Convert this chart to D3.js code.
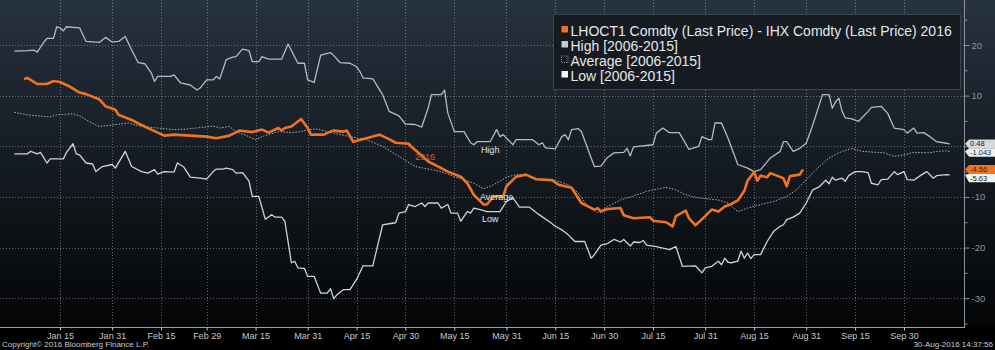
<!DOCTYPE html>
<html><head><meta charset="utf-8">
<script src="https://cdn.jsdelivr.net/npm/d3@7"></script>
<style>html,body{margin:0;padding:0;background:#000;overflow:hidden}svg{display:block}</style>
</head><body><svg id="c" width="995" height="350"></svg>
<script>
// ---------- DATA ----------
const tickDates = ["2016-01-15","2016-01-31","2016-02-15","2016-02-29","2016-03-15","2016-03-31","2016-04-15","2016-04-30","2016-05-15","2016-05-31","2016-06-15","2016-06-30","2016-07-15","2016-07-31","2016-08-15","2016-08-31","2016-09-15","2016-09-30"];
const tickLabels = ["Jan 15","Jan 31","Feb 15","Feb 29","Mar 15","Mar 31","Apr 15","Apr 30","May 15","May 31","Jun 15","Jun 30","Jul 15","Jul 31","Aug 15","Aug 31","Sep 15","Sep 30"];
const yMajor = [20,10,0,-10,-20,-30];
const yMinor = [25,15,5,-5,-15,-25,-35];

// [day of year 2016, value]
const high = [[1,18.8],[5,18.9],[7,19.0],[8,18.6],[10,20.5],[11,21.3],[13,21.3],[14,23.6],[15,23.4],[16,22.8],[17,23.6],[21,23.4],[23,20.7],[27,20.5],[29,21.5],[31,20.6],[33,20.7],[35,21.7],[37,19.0],[39,16.5],[41,16.3],[43,14.5],[44,12.8],[45,13.8],[49,13.8],[50,14.1],[52,12.5],[55,12.1],[57,11.1],[58,11.5],[60,13.1],[62,13.1],[63,13.8],[64,13.3],[66,17.1],[68,17.6],[69,17.7],[71,19.2],[73,18.9],[74,16.7],[76,16.7],[77,17.7],[79,17.2],[83,17.2],[85,20.2],[88,16.4],[90,16.4],[91,13.1],[93,12.6],[95,18.0],[98,18.5],[99,17.9],[101,16.5],[104,16.4],[106,15.7],[107,14.8],[108,13.5],[111,13.3],[114,10.2],[116,6.9],[119,6.0],[121,4.4],[124,4.3],[126,3.8],[128,7.6],[129,10.2],[132,10.2],[133,11.1],[134,6.6],[136,2.9],[139,2.9],[141,0.7],[142,0.3],[143,0.9],[147,0.9],[149,3.3],[150,1.9],[151,2.3],[154,0.3],[155,1.3],[160,1.3],[162,0.3],[163,0.7],[164,-0.3],[167,-0.5],[169,1.9],[170,2.3],[171,1.3],[172,3.3],[174,3.5],[175,2.9],[178,-2.3],[179,-4.0],[181,-3.9],[183,-2.2],[185,-1.3],[188,-1.2],[189,-0.4],[190,-1.9],[191,-0.1],[197,0.3],[198,2.6],[200,3.6],[202,2.7],[205,2.7],[206,1.6],[208,-0.6],[211,0.0],[212,1.9],[214,1.3],[215,1.3],[216,4.6],[218,4.6],[220,1.6],[223,-3.6],[226,-4.3],[228,-5.0],[230,-4.6],[233,-2.3],[236,-1.0],[237,0.9],[238,0.9],[240,-1.0],[242,-0.4],[244,0.6],[246,4.2],[249,10.2],[251,10.2],[252,7.5],[253,8.8],[254,9.5],[255,6.9],[256,5.6],[258,5.4],[260,4.9],[263,6.9],[264,7.7],[267,7.9],[269,6.5],[271,3.6],[274,3.3],[275,2.6],[277,3.6],[278,2.6],[280,2.7],[282,1.9],[284,0.9],[287,0.6],[288,0.48]];

const average = [[1,6.7],[5,6.2],[8,6.0],[12,5.8],[14,6.2],[19,6.4],[21,6.0],[23,5.2],[27,3.9],[31,4.2],[36,4.6],[40,3.9],[45,3.6],[50,3.3],[54,3.4],[58,3.7],[62,4.0],[64,3.6],[67,3.9],[69,2.9],[73,1.9],[75,1.3],[77,1.9],[82,2.9],[86,2.7],[89,2.9],[91,3.3],[94,3.4],[99,2.6],[104,1.9],[109,1.3],[114,0.0],[119,-2.0],[124,-4.0],[129,-4.6],[132,-5.0],[136,-6.0],[139,-6.6],[142,-7.3],[145,-8.4],[148,-7.6],[150,-6.9],[152,-6.1],[155,-5.6],[158,-5.6],[162,-6.5],[166,-6.5],[171,-7.6],[174,-9.2],[177,-11.9],[180,-13.1],[183,-11.9],[187,-10.6],[191,-9.8],[195,-8.9],[201,-8.1],[204,-8.6],[207,-9.6],[211,-10.2],[217,-10.6],[220,-11.2],[223,-12.9],[226,-12.2],[230,-11.5],[234,-10.9],[238,-9.9],[241,-8.6],[244,-6.6],[247,-4.6],[251,-2.3],[255,-1.0],[258,-0.4],[261,-1.0],[268,-1.3],[271,-2.0],[274,-1.7],[277,-1.2],[282,-1.3],[284,-1.0],[287,-0.9],[288,-1.043]];

const low = [[1,-1.5],[5,-1.5],[6,-1.0],[8,-1.5],[9,-1.2],[11,-3.3],[12,-2.5],[16,-2.5],[17,-1.2],[19,0.5],[20,-1.5],[21,-1.7],[23,-3.3],[25,-3.5],[26,-5.0],[28,-4.0],[31,-3.6],[32,-4.3],[35,-1.0],[37,-4.0],[40,-5.0],[42,-5.3],[44,-4.6],[45,-5.5],[47,-5.0],[50,-5.1],[51,-3.3],[53,-4.1],[55,-6.1],[58,-6.3],[60,-6.5],[62,-5.0],[63,-4.5],[65,-4.5],[66,-4.3],[68,-4.6],[69,-5.3],[71,-5.2],[73,-6.9],[74,-9.9],[76,-9.9],[78,-14.4],[80,-13.5],[81,-14.0],[83,-14.0],[84,-14.8],[86,-23.0],[87,-22.7],[88,-24.0],[90,-24.1],[91,-25.7],[93,-25.7],[95,-29.0],[97,-29.0],[98,-28.1],[99,-30.1],[100,-29.3],[102,-28.3],[104,-28.3],[106,-26.3],[108,-23.6],[111,-23.6],[114,-15.5],[116,-15.3],[118,-15.1],[119,-13.2],[121,-12.9],[122,-11.5],[124,-11.9],[126,-11.2],[127,-11.9],[128,-11.2],[131,-11.2],[132,-12.2],[134,-11.5],[135,-13.2],[137,-13.2],[138,-14.8],[140,-12.9],[141,-13.2],[142,-12.2],[144,-12.5],[146,-12.9],[150,-12.9],[152,-10.9],[154,-10.2],[156,-12.0],[159,-12.0],[162,-13.5],[165,-14.8],[167,-15.8],[169,-16.5],[171,-17.5],[173,-18.8],[176,-18.8],[178,-22.1],[179,-21.4],[181,-19.5],[183,-19.2],[185,-18.4],[187,-18.9],[188,-18.4],[190,-19.7],[191,-18.9],[193,-19.0],[194,-18.6],[195,-19.5],[198,-19.8],[202,-20.4],[204,-19.8],[206,-23.7],[210,-23.6],[212,-25.0],[213,-24.0],[215,-23.7],[217,-22.7],[218,-23.4],[219,-22.1],[220,-22.9],[221,-23.0],[223,-22.7],[224,-20.7],[225,-22.1],[226,-21.1],[227,-22.2],[228,-21.4],[230,-21.4],[232,-18.8],[234,-16.8],[236,-15.8],[237,-15.5],[238,-14.5],[240,-14.0],[242,-13.2],[244,-11.2],[246,-8.6],[248,-8.0],[250,-6.7],[251,-7.4],[252,-6.1],[253,-6.7],[255,-6.3],[256,-6.9],[257,-5.8],[259,-5.0],[261,-5.0],[263,-5.2],[264,-7.3],[266,-7.6],[267,-6.6],[269,-6.5],[271,-5.0],[272,-5.6],[274,-5.0],[275,-6.6],[277,-6.7],[279,-5.8],[281,-5.0],[283,-6.3],[284,-5.8],[287,-5.6],[288,-5.63]];

const y2016 = [[4,13.3],[5,13.5],[6,13.1],[8,12.3],[11,12.3],[13,12.9],[15,12.7],[18,11.8],[21,10.6],[23,10.3],[27,9.3],[29,7.9],[32,7.2],[33,6.2],[37,5.2],[40,4.2],[43,3.3],[47,2.1],[50,2.3],[55,2.1],[60,1.9],[63,1.6],[67,2.1],[70,3.1],[74,2.8],[77,3.3],[79,2.7],[82,3.6],[83,3.1],[84,3.6],[86,3.9],[89,5.4],[91,3.6],[92,2.3],[96,2.3],[98,2.9],[99,3.1],[102,2.9],[103,3.1],[105,0.9],[109,1.6],[113,2.3],[116,1.4],[118,0.7],[122,0.5],[123,-0.2],[125,-1.3],[128,-3.0],[132,-4.3],[134,-5.0],[138,-6.0],[140,-7.3],[142,-9.6],[145,-11.5],[146,-11.5],[148,-9.9],[151,-9.9],[152,-7.9],[155,-6.0],[158,-5.6],[161,-6.5],[166,-6.7],[168,-7.6],[172,-8.2],[175,-11.2],[179,-12.5],[180,-12.2],[181,-12.9],[183,-12.4],[187,-12.2],[188,-13.6],[191,-14.2],[196,-14.0],[197,-14.7],[201,-15.0],[203,-15.8],[204,-13.8],[207,-12.7],[208,-14.2],[210,-15.6],[213,-13.8],[215,-12.5],[217,-12.9],[219,-11.9],[221,-11.4],[223,-10.7],[225,-8.8],[226,-6.8],[228,-5.1],[229,-6.8],[230,-5.8],[232,-6.1],[233,-5.3],[237,-6.3],[238,-7.9],[239,-5.9],[242,-5.6],[243,-4.56]];

const legendLabels = ["LHOCT1 Comdty (Last Price) - IHX Comdty (Last Price) 2016","High [2006-2015]","Average [2006-2015]","Low [2006-2015]"];
// in-chart labels: [text, day of year, value]
const annotations = [["High",147.5,-1.3],["2016",127,-2.7],["Average",149.7,-10.6],["Low",147.2,-15.0]];
// last-value tags: [value, label, fill, text colour], top to bottom
const lastTags = [[0.48,"0.48","#d6d8da","#1a1a1a"],[-1.043,"-1.043","#f2f2f2","#1a1a1a"],[-4.56,"-4.56","#f07323","#4a1800"],[-5.63,"-5.63","#f2f2f2","#1a1a1a"]];

// ---------- LAYOUT ----------
const W = 995, H = 350, plotR = 964, plotB = 327;
const parseD = d3.timeParse("%Y-%m-%d");
const dayToDate = d => new Date(2016, 0, d);
const x = d3.scaleTime().domain([parseD("2016-01-15"), parseD("2016-09-30")]).range([60, 904]);
const y = d3.scaleLinear().domain([-30, 20]).range([298.2, 45]);
const font = "'Liberation Sans', Arial, sans-serif";

const svg = d3.select("#c").attr("font-family", font);
const defs = svg.append("defs");
const g = defs.append("linearGradient").attr("id","bg").attr("x1",0).attr("y1",0).attr("x2",0).attr("y2",1);
g.append("stop").attr("offset","0").attr("stop-color","#27333f");
g.append("stop").attr("offset","0.45").attr("stop-color","#161d25");
g.append("stop").attr("offset","1").attr("stop-color","#040506");
defs.append("clipPath").attr("id","clip").append("rect").attr("x",0).attr("y",0).attr("width",plotR).attr("height",plotB);

svg.append("rect").attr("width",W).attr("height",H).attr("fill","#000");
svg.append("rect").attr("width",W).attr("height",plotB).attr("fill","url(#bg)");

// grid
const grid = svg.append("g").attr("stroke","#c8ccd2").attr("stroke-opacity",0.45).attr("stroke-width",1).attr("stroke-dasharray","1,2");
grid.selectAll("line.h").data(yMajor).join("line").attr("x1",0).attr("x2",plotR)
  .attr("y1",d=>Math.round(y(d))+0.5).attr("y2",d=>Math.round(y(d))+0.5);
grid.selectAll("line.v").data(tickDates).join("line").attr("y1",0).attr("y2",plotB)
  .attr("x1",d=>Math.round(x(parseD(d)))+0.5).attr("x2",d=>Math.round(x(parseD(d)))+0.5);

// lines
const line = d3.line().x(d=>x(dayToDate(d[0]))).y(d=>y(d[1]));
const lines = svg.append("g").attr("clip-path","url(#clip)").attr("fill","none").attr("stroke-linejoin","round");
lines.append("path").datum(average).attr("d",line).attr("stroke","#a8b0b8").attr("stroke-width",1).attr("stroke-dasharray","1.5,1.5");
lines.append("path").datum(high).attr("d",line).attr("stroke","#b4bac2").attr("stroke-width",1.3);
lines.append("path").datum(low).attr("d",line).attr("stroke","#cfd3d8").attr("stroke-width",1.3);
lines.append("path").datum(y2016).attr("d",line).attr("stroke","#f07323").attr("stroke-width",2.6);

// annotations
svg.append("g").selectAll("text").data(annotations).join("text")
  .attr("x",d=>x(dayToDate(d[1]))).attr("y",d=>y(d[2]))
  .attr("text-anchor","middle").attr("font-size",9)
  .attr("fill",d=>d[0]==="2016"?"#d0661e":"#e4e6e8").text(d=>d[0]);

// legend
const lg = svg.append("g");
lg.append("rect").attr("x",553.5).attr("y",14.5).attr("width",407).attr("height",75)
  .attr("fill","#151b21").attr("stroke","#3a444e").attr("stroke-width",1);
const legendFill = ["#f07323","#c8ccd0","none","#f4f6f8"];
legendLabels.forEach((t,i)=>{
  const by = 35.5 + i*15;
  const r = lg.append("rect").attr("x",561.5).attr("y",by-9.5).attr("width",6.5).attr("height",6.5);
  if (legendFill[i]==="none") r.attr("fill","none").attr("stroke","#aab").attr("stroke-width",0.8).attr("stroke-dasharray","1,1");
  else r.attr("fill",legendFill[i]);
  lg.append("text").attr("x",570.5).attr("y",by).attr("font-size",14).attr("fill","#e6e8ea").text(t);
});

// right axis (the 0 label is hidden behind the value tags, as in the original)
svg.append("line").attr("x1",plotR+0.5).attr("x2",plotR+0.5).attr("y1",0).attr("y2",plotB)
  .attr("stroke","#8a929a").attr("stroke-width",1);
const ya = svg.append("g").attr("transform",`translate(${plotR+0.5},0)`)
  .call(d3.axisRight(y).tickValues(yMajor).tickSize(5).tickPadding(2).tickFormat(d=>d===0?"":String(d)));
ya.select(".domain").remove();
ya.selectAll("line").attr("stroke","#8a929a");
ya.selectAll("text").attr("fill","#8e959c").attr("font-size",9.5).attr("font-family",font);
const ym = svg.append("g").attr("transform",`translate(${plotR+0.5},0)`)
  .call(d3.axisRight(y).tickValues(yMinor).tickSize(3).tickFormat(""));
ym.select(".domain").remove();
ym.selectAll("line").attr("stroke","#8a929a");

// bottom axis
svg.append("line").attr("x1",0).attr("x2",plotR+1).attr("y1",plotB+0.5).attr("y2",plotB+0.5)
  .attr("stroke","#9aa0a6").attr("stroke-width",1);
const xa = svg.append("g").attr("transform",`translate(0,${plotB+0.5})`)
  .call(d3.axisBottom(x).tickValues(tickDates.map(parseD)).tickSize(3).tickPadding(2).tickFormat((d,i)=>tickLabels[i]));
xa.select(".domain").remove();
xa.selectAll("line").attr("stroke","#c0c4c8");
xa.selectAll("text").attr("fill","#c4c8cc").attr("font-size",9).attr("font-family",font);

// value tags on the right, stacked so they do not collide
const tagH = 8.6;
let prevY = -Infinity;
const tagPos = lastTags.map(t => { const vy = Math.max(y(t[0]), prevY + tagH); prevY = vy; return vy; });
lastTags.forEach((t,i) => {
  const vy = tagPos[i], ay = y(t[0]);
  const tg = svg.append("g");
  tg.append("path").attr("d",`M${plotR+1},${ay} L${plotR+5},${vy-tagH/2} L${W},${vy-tagH/2} L${W},${vy+tagH/2} L${plotR+5},${vy+tagH/2} Z`).attr("fill",t[2]);
  tg.append("text").attr("x",plotR+6).attr("y",vy+2.6).attr("font-size",7.5).attr("fill",t[3]).text(t[1]);
});

// footer
svg.append("text").attr("x",2).attr("y",347).attr("font-size",8).attr("fill","#c8ccd0").text("Copyright\u00a9 2016 Bloomberg Finance L.P.");
svg.append("text").attr("x",993).attr("y",347).attr("text-anchor","end").attr("font-size",8).attr("fill","#c8ccd0").text("30-Aug-2016 14:37:56");
</script></body></html>
